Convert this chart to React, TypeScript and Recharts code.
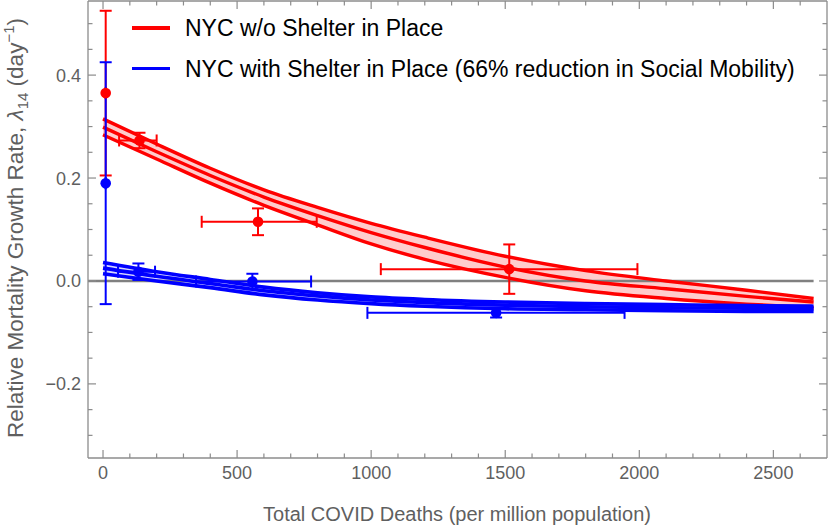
import { ComposedChart, Line, Area, Scatter, ErrorBar, XAxis, YAxis, ReferenceLine, Legend, Label } from 'recharts'

// fitted curves
const curveX = [0, 200, 400, 600, 800, 1000, 1200, 1500, 1800, 2100, 2400, 2650]
const redHi = [0.315, 0.266, 0.219, 0.177, 0.143, 0.112, 0.085, 0.048, 0.02, 0.0, -0.018, -0.034]
const redMid = [0.299, 0.251, 0.205, 0.163, 0.127, 0.094, 0.065, 0.027, 0.0, -0.015, -0.03, -0.041]
const redLo = [0.284, 0.237, 0.19, 0.147, 0.109, 0.072, 0.042, 0.007, -0.019, -0.034, -0.045, -0.052]
const blueHi = [0.036, 0.018, 0.003, -0.012, -0.023, -0.031, -0.036, -0.041, -0.044, -0.046, -0.048, -0.049]
const blueMid = [0.025, 0.009, -0.005, -0.019, -0.029, -0.037, -0.042, -0.047, -0.05, -0.052, -0.053, -0.054]
const blueLo = [0.014, 0.0, -0.013, -0.027, -0.037, -0.044, -0.049, -0.054, -0.056, -0.058, -0.059, -0.059]

// measured points
const redPtX = [10, 136, 578, 1515]
const redPtY = [0.365, 0.273, 0.115, 0.023]
const redPtYErr = [0.16, 0.015, 0.026, 0.048]
const redPtXErr = [[0, 0], [76, 64], [210, 219], [479, 478]]
const bluePtX = [10, 132, 557, 1466]
const bluePtY = [0.19, 0.018, -0.001, -0.062]
const bluePtYErr = [0.235, 0.016, 0.015, 0.009]
const bluePtXErr = [[0, 0], [76, 62], [210, 219], [480, 479]]

const xTicks = [0, 100, 200, 300, 400, 500, 600, 700, 800, 900, 1000, 1100, 1200, 1300, 1400, 1500, 1600, 1700, 1800, 1900, 2000, 2100, 2200, 2300, 2400, 2500, 2600]
const xMajor = [0, 500, 1000, 1500, 2000, 2500]
const yTicks = [-0.3, -0.25, -0.2, -0.15, -0.1, -0.05, 0, 0.05, 0.1, 0.15, 0.2, 0.25, 0.3, 0.35, 0.4, 0.45, 0.5]
const yMajor = [-0.2, 0, 0.2, 0.4]

const seriesNames = ['NYC w/o Shelter in Place', 'NYC with Shelter in Place (66% reduction in Social Mobility)']

const curves = curveX.map((x, i) => ({
  x,
  redHi: redHi[i], redMid: redMid[i], redLo: redLo[i],
  blueHi: blueHi[i], blueMid: blueMid[i], blueLo: blueLo[i],
}))
const redPts = redPtX.map((x, i) => ({ x, y: redPtY[i], ey: redPtYErr[i], ex: redPtXErr[i] }))
const bluePts = bluePtX.map((x, i) => ({ x, y: bluePtY[i], ey: bluePtYErr[i], ex: bluePtXErr[i] }))

const RED = '#ff0000'
const BLUE = '#0000ff'
const FRAME = '#8c8c8c'
const LABEL = '#5f5f5f'
const X_DOMAIN = [-56, 2700]
const Y_DOMAIN = [-0.344, 0.544]

const isMajorY = (v: number) => yMajor.some((m) => Math.abs(m - v) < 1e-9)
const fmtY = (v: number) => v.toFixed(1).replace('-', '\u2212')

function BottomTick({ x, y, payload }: any) {
  const major = xMajor.includes(payload.value)
  return (
    <g>
      <line x1={x} x2={x} y1={y} y2={y - (major ? 8 : 4.5)} stroke={FRAME} strokeWidth={1.2} />
      {major && (
        <text x={x} y={y + 21} textAnchor="middle" fill={LABEL} fontSize={18}>{payload.value}</text>
      )}
    </g>
  )
}

function TopTick({ x, y, payload }: any) {
  const major = xMajor.includes(payload.value)
  return <line x1={x} x2={x} y1={y} y2={y + (major ? 8 : 4.5)} stroke={FRAME} strokeWidth={1.2} />
}

function LeftTick({ x, y, payload }: any) {
  const major = isMajorY(payload.value)
  return (
    <g>
      <line x1={x} x2={x + (major ? 8 : 4.5)} y1={y} y2={y} stroke={FRAME} strokeWidth={1.2} />
      {major && (
        <text x={x - 7} y={y} dy="0.36em" textAnchor="end" fill={LABEL} fontSize={18}>{fmtY(payload.value)}</text>
      )}
    </g>
  )
}

function RightTick({ x, y, payload }: any) {
  const major = isMajorY(payload.value)
  return <line x1={x} x2={x - (major ? 8 : 4.5)} y1={y} y2={y} stroke={FRAME} strokeWidth={1.2} />
}

const dot = (color: string) => (p: any) => <circle cx={p.cx} cy={p.cy} r={5.3} fill={color} />

function LegendBox() {
  const rows = [
    { name: seriesNames[0], color: RED, cy: 28 },
    { name: seriesNames[1], color: BLUE, cy: 68.5 },
  ]
  return (
    <div style={{ position: 'relative', width: 830, height: 90 }}>
      {rows.map((r) => (
        <div key={r.name} style={{ position: 'absolute', left: 132, top: r.cy - 15, height: 30, display: 'flex', alignItems: 'center', whiteSpace: 'nowrap' }}>
          <div style={{ width: 38, height: 3.5, background: r.color }} />
          <span style={{ marginLeft: 15, fontSize: 23, color: '#000', lineHeight: '30px' }}>{r.name}</span>
        </div>
      ))}
    </div>
  )
}

function YTitle() {
  return (
    <text transform="rotate(-90, 23, 228)" x={23} y={228} textAnchor="middle" fill={LABEL} fontSize={22.5}>
      Relative Mortality Growth Rate, <tspan fontStyle="italic">{'\u03bb'}</tspan>
      <tspan fontSize={15} dy={5}>14</tspan>
      <tspan dy={-5}> (day</tspan>
      <tspan fontSize={15} dy={-9}>{'\u22121'}</tspan>
      <tspan dy={9}>)</tspan>
    </text>
  )
}

function XTitle() {
  return (
    <text x={457} y={521} textAnchor="middle" fill={LABEL} fontSize={20}>
      Total COVID Deaths (per million population)
    </text>
  )
}

export default function App() {
  return (
    <div style={{ position: 'absolute', left: 0, top: 0, width: 830, height: 530, fontFamily: "'Liberation Sans', Arial, sans-serif", background: '#fff' }}>
      <ComposedChart width={830} height={530} data={curves} margin={{ top: 0, right: 2, bottom: 71, left: 87 }}>
        <XAxis dataKey="x" type="number" domain={X_DOMAIN} allowDataOverflow ticks={xTicks} interval={0}
          height={1} tickSize={0} tickMargin={0} tick={<BottomTick />} axisLine={{ stroke: FRAME, strokeWidth: 1.3 }}>
          <Label content={() => <XTitle />} />
        </XAxis>
        <XAxis xAxisId="top" orientation="top" dataKey="x" type="number" domain={X_DOMAIN} allowDataOverflow ticks={xTicks} interval={0}
          height={1} tickSize={0} tickMargin={0} tick={<TopTick />} axisLine={{ stroke: FRAME, strokeWidth: 1.3 }} />
        <YAxis type="number" domain={Y_DOMAIN} allowDataOverflow ticks={yTicks} interval={0}
          width={1} tickSize={0} tickMargin={0} tick={<LeftTick />} axisLine={{ stroke: FRAME, strokeWidth: 1.3 }}>
          <Label content={() => <YTitle />} />
        </YAxis>
        <YAxis yAxisId="right" orientation="right" type="number" domain={Y_DOMAIN} allowDataOverflow ticks={yTicks} interval={0}
          width={1} tickSize={0} tickMargin={0} tick={<RightTick />} axisLine={{ stroke: FRAME, strokeWidth: 1.3 }} />

        <ReferenceLine segment={[{ x: X_DOMAIN[0], y: 0 }, { x: 2650, y: 0 }]} stroke="#808080" strokeWidth={2.6} />

        <Area type="monotone" dataKey={(d: any) => [d.redLo, d.redHi]} stroke="none" fill="#ffcccc" fillOpacity={1} isAnimationActive={false} />
        <Line type="monotone" dataKey="redHi" stroke={RED} strokeWidth={3.4} dot={false} isAnimationActive={false} />
        <Line type="monotone" dataKey="redMid" stroke={RED} strokeWidth={3.4} dot={false} isAnimationActive={false} />
        <Line type="monotone" dataKey="redLo" stroke={RED} strokeWidth={3.4} dot={false} isAnimationActive={false} />

        <Area type="monotone" dataKey={(d: any) => [d.blueLo, d.blueHi]} stroke="none" fill="#d4d4ff" fillOpacity={1} isAnimationActive={false} />
        <Line type="monotone" dataKey="blueHi" stroke={BLUE} strokeWidth={3.6} dot={false} isAnimationActive={false} />
        <Line type="monotone" dataKey="blueMid" stroke={BLUE} strokeWidth={3.6} dot={false} isAnimationActive={false} />
        <Line type="monotone" dataKey="blueLo" stroke={BLUE} strokeWidth={3.6} dot={false} isAnimationActive={false} />

        <Scatter data={redPts} dataKey="y" shape={dot(RED)} isAnimationActive={false}>
          <ErrorBar dataKey="ey" direction="y" width={6} stroke={RED} strokeWidth={2} />
          <ErrorBar dataKey="ex" direction="x" width={6} stroke={RED} strokeWidth={2} />
        </Scatter>
        <Scatter data={bluePts} dataKey="y" shape={dot(BLUE)} isAnimationActive={false}>
          <ErrorBar dataKey="ey" direction="y" width={6} stroke={BLUE} strokeWidth={2} />
          <ErrorBar dataKey="ex" direction="x" width={6} stroke={BLUE} strokeWidth={2} />
        </Scatter>

        <Legend layout="vertical" align="center" verticalAlign="middle" content={() => <LegendBox />}
          wrapperStyle={{ left: 0, top: 0, width: 830 }} />
      </ComposedChart>
    </div>
  )
}
